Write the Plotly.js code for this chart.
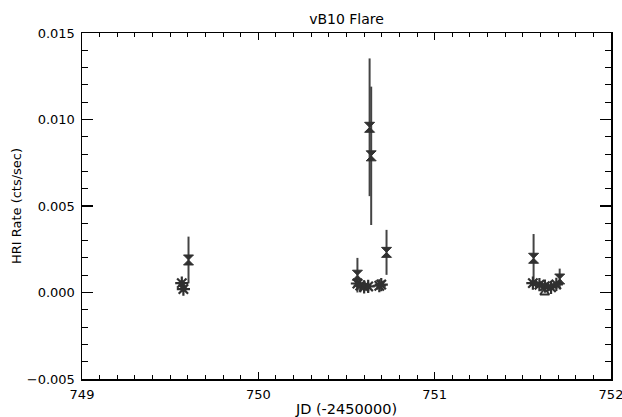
<!DOCTYPE html>
<html>
<head>
<meta charset="utf-8">
<script src="https://cdn.plot.ly/plotly-3.0.1.min.js"></script>
<style>html,body{margin:0;padding:0;background:#fff;}#chart{width:622px;height:417px;}</style>
</head>
<body>
<div id="chart"></div>
<script>
// Asterisk points (quiescent rate)
const starX = [749.566, 749.575, 750.562, 750.578, 750.600, 750.623, 750.686, 750.697, 751.557, 751.594, 751.625, 751.660, 751.690];
const starY = [0.00054, 0.00020, 0.00052, 0.00040, 0.00032, 0.00035, 0.00039, 0.00046, 0.00054, 0.00045, 0.00037, 0.00030, 0.00047];
// Hourglass points with error bars
const hgX = [749.604, 750.562, 750.631, 750.640, 750.727, 751.561, 751.709];
const hgY = [0.00188, 0.00100, 0.00955, 0.00790, 0.00232, 0.00198, 0.00078];
const hgErr = [0.00135, 0.00100, 0.00398, 0.00400, 0.00130, 0.00140, 0.00060];
// Small triangle point
const triX = [751.624];
const triY = [0.00000];
// Axis ticks
const xTicks = [749, 750, 751, 752];
const yTicks = [-0.005, 0.000, 0.005, 0.010, 0.015];

const mk = '#303030';
const traces = [
  {x: hgX, y: hgY, type: 'scatter', mode: 'markers',
   error_y: {type: 'data', array: hgErr, visible: true, color: '#444', thickness: 2, width: 0},
   marker: {symbol: 'hourglass', size: 10, color: mk, line: {color: mk, width: 1}}},
  {x: starX, y: starY, type: 'scatter', mode: 'markers',
   marker: {symbol: 'asterisk-open', size: 11, color: mk, line: {color: mk, width: 2.2}}},
  {x: triX, y: triY, type: 'scatter', mode: 'markers',
   marker: {symbol: 'triangle-up-open', size: 8, color: mk, line: {color: mk, width: 1.8}}}
];

const fam = 'DejaVu Sans, Arial, sans-serif';
const font = {family: fam, size: 13, color: '#000'};
const axCommon = {
  showgrid: false, zeroline: false, showline: true, linecolor: '#000', linewidth: 1.5,
  mirror: 'allticks', ticks: 'inside', tickwidth: 1.2, tickcolor: '#000',
  tickfont: font, automargin: false, ticklabeloverflow: 'allow'
};
const layout = {
  width: 622, height: 417,
  margin: {l: 82, r: 10.5, t: 33, b: 38},
  paper_bgcolor: '#fff', plot_bgcolor: '#fff',
  showlegend: false,
  font: font,
  title: {text: 'vB10 Flare', font: {family: fam, size: 14, color: '#000'},
          x: 0.5, xanchor: 'center', xref: 'paper', y: 1 - 19/417, yanchor: 'middle', yref: 'container'},
  xaxis: Object.assign({}, axCommon, {
    range: [749, 752], tickmode: 'array', tickvals: xTicks, ticktext: xTicks.map(String),
    ticklen: 7,
    minor: {dtick: 0.1, ticklen: 4, tickwidth: 1, tickcolor: '#000', ticks: 'inside'},
    ticklabelstandoff: 3,
    title: {text: 'JD (-2450000)', font: {family: fam, size: 14.5, color: '#000'}, standoff: 3}
  }),
  yaxis: Object.assign({}, axCommon, {
    range: [-0.005, 0.015], tickmode: 'array', tickvals: yTicks,
    ticktext: yTicks.map(v => (v < 0 ? '\u2212' : '') + Math.abs(v).toFixed(3)),
    ticklen: 11,
    minor: {dtick: 0.001, ticklen: 6, tickwidth: 1, tickcolor: '#000', ticks: 'inside'},
    ticklabelstandoff: 3,
    title: {text: 'HRI Rate (cts/sec)', font: font, standoff: 2}
  })
};
Plotly.newPlot('chart', traces, layout, {displayModeBar: false, staticPlot: true});
</script>
</body>
</html>
